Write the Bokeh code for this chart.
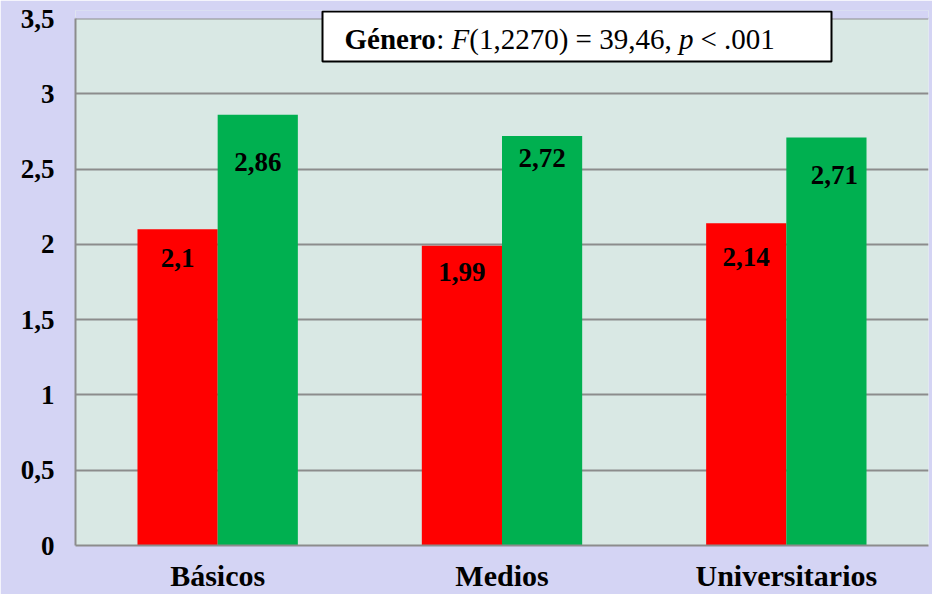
from bokeh.plotting import figure
from bokeh.models import ColumnDataSource, FactorRange, Range1d, FixedTicker, Label, BoxAnnotation
from bokeh.transform import dodge
from bokeh.core.properties import value
from bokeh.embed import file_html
from bokeh.resources import INLINE

# ---- data ----
categories = ["Básicos", "Medios", "Universitarios"]
hombres = [2.10, 1.99, 2.14]      # red series
mujeres = [2.86, 2.72, 2.71]      # green series
hombres_labels = ["2,1", "1,99", "2,14"]
mujeres_labels = ["2,86", "2,72", "2,71"]
y_ticks = [0, 0.5, 1, 1.5, 2, 2.5, 3, 3.5]
y_tick_labels = ["0", "0,5", "1", "1,5", "2", "2,5", "3", "3,5"]

# ---- layout ----
W, H = 932, 594
BL, BR, BT, BB = 75, 4, 10, 49
PLOT_TOP = 18                  # pixel row of the 3.5 line
frame_w = W - BL - BR
y_max = 3.5
ppu = (H - BB - PLOT_TOP) / y_max          # pixels per y unit
y_end = y_max + (PLOT_TOP - BT) / ppu      # small headroom for the stats box
bar_w = 0.282
off = 0.141
# label offsets below bar tops (px) and horizontal nudges (px)
h_dy = [29, 26, 34]
m_dy = [47, 22, 38]
h_dx = [0, 0, 0]
m_dx = [0, 0, 8]

RED = "#ff0000"
GREEN = "#00b050"
GRID = "#8c8c8c"
OUTER = "#d4d4f4"
INNER = "#d9e8e4"
FONT = "Liberation Serif"

src = ColumnDataSource(dict(
    cat=categories,
    h=hombres,
    m=mujeres,
    hl=hombres_labels,
    ml=mujeres_labels,
    hy=[v - d / ppu for v, d in zip(hombres, h_dy)],
    my=[v - d / ppu for v, d in zip(mujeres, m_dy)],
    hdx=h_dx,
    mdx=m_dx,
))

p = figure(
    width=W, height=H,
    x_range=FactorRange(factors=categories, range_padding=0),
    y_range=Range1d(0, y_end),
    output_backend="svg", toolbar_location=None,
    min_border_left=BL, min_border_right=BR, min_border_top=BT, min_border_bottom=BB,
)
p.background_fill_color = INNER
p.border_fill_color = OUTER
p.outline_line_color = None

# headroom strip above 3.5 painted like the outer background
p.add_layout(BoxAnnotation(bottom=y_max, top=y_end + 1, fill_color=OUTER, fill_alpha=1.0,
                           line_color=None, level="underlay"))

p.vbar(x=dodge("cat", -off, range=p.x_range), top="h", width=bar_w, bottom=0,
       source=src, fill_color=RED, line_color=None)
p.vbar(x=dodge("cat", off, range=p.x_range), top="m", width=bar_w, bottom=0,
       source=src, fill_color=GREEN, line_color=None)

common = dict(text_font=value(FONT), text_font_style="bold", text_font_size="27px",
              text_align="center", text_baseline="middle", text_color="black", source=src)
p.text(x=dodge("cat", -off, range=p.x_range), y="hy", text="hl", x_offset="hdx", **common)
p.text(x=dodge("cat", off, range=p.x_range), y="my", text="ml", x_offset="mdx", **common)

# axes
p.xgrid.visible = False
p.ygrid.grid_line_color = GRID
p.ygrid.grid_line_width = 2
p.yaxis.ticker = FixedTicker(ticks=y_ticks)
p.yaxis.major_label_overrides = {t: l for t, l in zip(y_ticks, y_tick_labels)}
p.yaxis.bounds = (0, y_max)
for ax in (p.xaxis[0], p.yaxis[0]):
    ax.axis_line_color = GRID
    ax.axis_line_width = 2
    ax.major_tick_line_color = None
    ax.minor_tick_line_color = None
    ax.major_tick_out = 0
    ax.major_tick_in = 0
    ax.major_label_text_font = FONT
    ax.major_label_text_font_style = "bold"
    ax.major_label_text_color = "black"
p.yaxis.major_label_text_font_size = "27px"
p.yaxis.major_label_standoff = 21
p.xaxis.major_label_text_font_size = "30px"
p.xaxis.major_label_standoff = 13


def px2x(px):
    return (px - BL) / (frame_w / 3)


def py2y(py):
    return (H - BB - py) / ppu


# statistic box (white, black border) with mixed-style text
p.add_layout(BoxAnnotation(left=px2x(322), right=px2x(831), top=py2y(11), bottom=py2y(61),
                           fill_color="white", fill_alpha=1.0,
                           line_color="black", line_width=2, line_alpha=1.0))

ann = dict(y=py2y(38), x_units="data", y_units="data", text_font=FONT,
           text_font_size="29px", text_color="black", text_baseline="alphabetic")
p.add_layout(Label(x=px2x(344), text="Género", text_font_style="bold", **ann))
p.add_layout(Label(x=px2x(435.8), text=":", text_font_style="normal", **ann))
p.add_layout(Label(x=px2x(451.1), text="F", text_font_style="italic", **ann))
p.add_layout(Label(x=px2x(468.8), text="(1,2270) = 39,46,", text_font_style="normal", **ann))
p.add_layout(Label(x=px2x(678.5), text="p", text_font_style="italic", **ann))
p.add_layout(Label(x=px2x(700), text="< .001", text_font_style="normal", **ann))

open("out.html", "w").write(file_html(p, INLINE))
